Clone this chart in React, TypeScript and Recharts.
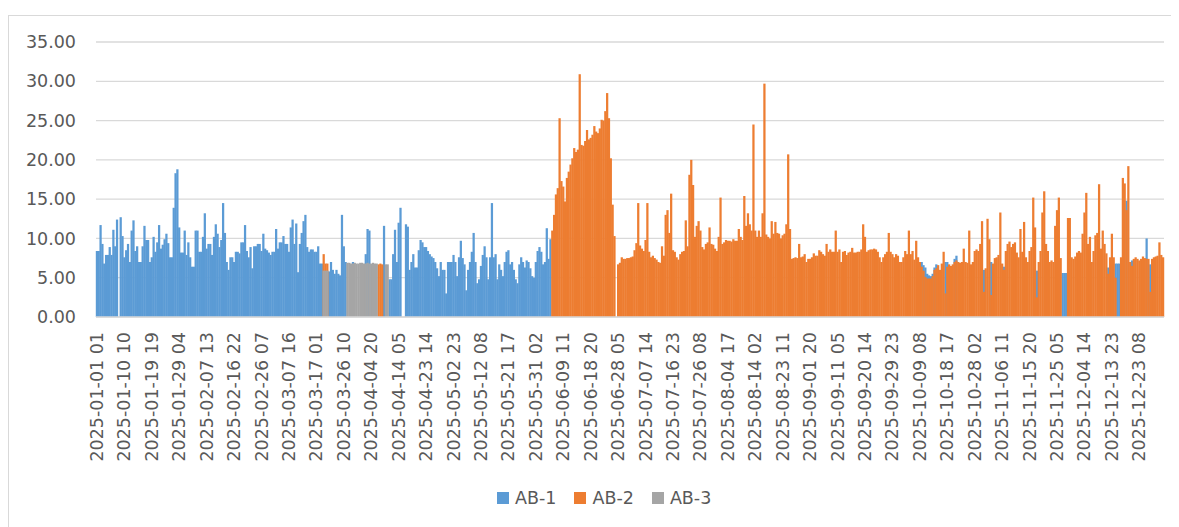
import { BarChart, Bar, XAxis, YAxis, CartesianGrid, Legend } from "recharts";

// 15-hour buckets from 2025-01-01 01 to the end of the year (584 slots).
// An axis label is printed every 15th bucket (225 h).
const tickLabels = [
  "2025-01-01 01", "2025-01-10 10", "2025-01-19 19", "2025-01-29 04", "2025-02-07 13",
  "2025-02-16 22", "2025-02-26 07", "2025-03-07 16", "2025-03-17 01", "2025-03-26 10",
  "2025-04-04 20", "2025-04-14 05", "2025-04-23 14", "2025-05-02 23", "2025-05-12 08",
  "2025-05-21 17", "2025-05-31 02", "2025-06-09 11", "2025-06-18 20", "2025-06-28 05",
  "2025-07-07 14", "2025-07-16 23", "2025-07-26 08", "2025-08-04 17", "2025-08-14 02",
  "2025-08-23 11", "2025-09-01 20", "2025-09-11 05", "2025-09-20 14", "2025-09-29 23",
  "2025-10-09 08", "2025-10-18 17", "2025-10-28 02", "2025-11-06 11", "2025-11-15 20",
  "2025-11-25 05", "2025-12-04 14", "2025-12-13 23", "2025-12-23 08",
];
const SLOT_COUNT = 584;
const yTicks = [0, 5, 10, 15, 20, 25, 30, 35];

// AB-1, buckets 0..248
const ab1Winter = [
  8.4, 8.4, 11.7, 9.3, 6.8, 7.9, 7.9, 8.9, 7.9, 11.1, 9, 12.4,
  0,
  12.7, 10.3, 7.6, 8.5, 9.3, 7, 11, 12.3, 8.4, 9, 7, 7,
  9, 11.6, 9.8, 9.8, 7, 7.6, 10.2, 8.3, 9.5, 11.7, 8.7, 9.2,
  9.9, 10.6, 9.4, 7.6, 7.6, 13.9, 18.3, 18.8, 11.4, 8.2, 8.2, 11,
  7.9, 9.5, 7.6, 6.4, 6.4, 11, 11, 8.3, 8.3, 10.2, 13.2, 8.7,
  9.3, 9.3, 7.9, 10.2, 11.8, 10.6, 8.9, 9.8, 14.5, 10.7, 7, 6,
  7.6, 7.6, 7, 8.3, 8.3, 8.1, 9.5, 9.5, 11.7, 8.4, 7.6, 8.9,
  6.2, 9, 9, 9.3, 9.3, 8.4, 10.6, 8.7, 8.5, 8.2,
  7.9, 8.3, 8.3, 11.2, 8.7, 9.5, 9.5, 10.3, 9.3, 9.3, 8.3, 11.4,
  12.4, 9.3, 11.9, 5.7, 9.3, 10.7, 12.2, 13, 8.9, 8.3, 8.6, 8.6,
  8.3, 8.3, 9, 6.8, 6.8,
  0, 0, 0,
  5.8, 7, 6, 5.5, 6, 5.5, 5.3, 13, 9, 7,
  0, 0, 0, 7, 0, 0, 0, 0, 0, 0, 8, 11.2, 11, 0, 0, 0, 0,
  0, 0, 0,
  11.6,
  0, 0,
  4.8, 4.8, 8, 11.1, 7, 12, 13.9, 0, 0, 11.8, 11.5,
  6, 7, 8, 6.3, 6.3, 8.5, 9.8, 9.5, 8.9, 8.9, 8.4, 8,
  7.7, 7.5, 7, 6.2, 5.2, 7, 6, 6, 3, 7, 7,
  7, 7.9, 7, 5.2, 7.6, 9.7, 7.5, 6.7, 3.4, 6, 7, 8.3,
  10.7, 7, 4.3, 4.8, 6.5, 7.9, 9, 7.6, 4.8, 7.6, 14.5, 7.6,
  8, 4.8, 6.7, 6, 5.2, 7, 8.3, 8.5, 6.7, 7, 6, 4.8,
  4.3, 6.7, 7.6, 7, 6.3, 7.2, 7, 6.2, 5.2, 5, 7, 8.4,
  8.9, 8.3, 6.7, 7, 11.3, 7.4, 9.9,
];

// AB-1, buckets 451..583 (only where it shows above AB-2)
const ab1Autumn = [
  7, 6.6, 6.3, 5.5, 5.3, 5.2, 5.5, 6.3, 6.7,
  0, 0, 0, 0, 7, 7, 0, 0, 0, 7.4, 7.8,
  0, 0, 0, 0, 0, 0, 0, 0, 0, 0, 0, 0, 0, 0,
  6, 0, 0, 0, 7, 0, 0, 0, 0, 0, 0, 6.4,
  0, 0, 0, 0, 0, 0, 0, 0, 0, 0, 0, 0, 0, 0, 0, 0, 0,
  5.9,
  0, 0, 0, 0, 0, 0, 0, 0, 0, 0, 0, 0, 0,
  5.6, 5.6, 5.6,
  0, 0, 0, 0, 0, 0, 0, 0, 0, 0, 0, 0, 0, 0, 0, 0, 0, 0, 0, 0, 0, 0,
  6.3, 0, 0, 0, 6.8, 6.8, 6.8, 0, 0, 0, 14.8, 0, 0, 7.2,
  0, 0, 0, 0, 0, 0, 0, 10, 0, 6.7, 0, 0, 0, 0, 0, 0, 0,
];

// AB-2, buckets 124..156
const ab2Spring = [
  8, 6.8, 6.8,
  0, 0, 0, 0, 0, 0, 0, 0, 0, 0, 0, 0, 0, 0, 0, 0, 0, 0, 0, 0, 0, 0, 0, 0, 0, 0, 0,
  6.7, 6.8, 6.7,
];

// AB-2, buckets 249..583
const ab2Summer = [
  11, 13, 15.6, 16.4, 25.3, 17.3, 16.6, 14.7, 17.7, 18.5, 19.4, 20.2,
  21.5, 21, 21.3, 30.9, 21.9, 21.8, 22.4, 23.8, 22.6, 22.8, 23.2, 24.3,
  23.6, 23.4, 24, 25.1, 25, 26.2, 28.5, 25.3, 20.2, 14.3, 10.3, 0,
  6.7, 6.9, 7.6, 7.4, 7.4, 7.5, 7.5, 7.6, 7.7, 8.5, 9.4, 14.5,
  9.1, 8.7, 8.4, 9.8, 14.5, 8.3, 7.6, 7.8, 7.5, 7.3, 7, 6.9,
  9, 7.8, 13, 13.6, 10.7, 15.7, 8.5, 8.3, 7.6, 7.3, 8, 8.3,
  8.4, 12.3, 9, 18.1, 20, 16.8, 10.2, 11.6, 12.2, 11, 8.9, 8.6,
  9.3, 9.5, 11.4, 9.3, 9.2, 8.7, 8.4, 10.2, 15.2, 9.3, 9.5, 9.8,
  9.7, 9.7, 9.6, 9.9, 9.7, 9.7, 11.2, 10.2, 9.8, 15.4, 11.6, 13.2,
  11.8, 11, 24.5, 11, 10.2, 11, 10.2, 13.2, 29.7, 10.5, 10.2, 10,
  12.2, 10.6, 12.1, 10.7, 10.6, 10, 10.4, 10.6, 11.8, 20.7, 11.2, 7.4,
  7.5, 7.6, 7.5, 9.3, 7.6, 7.7, 8, 7, 7.4, 7.4, 7.6, 8.1,
  7.8, 7.8, 8.5, 8.3, 8, 7.8, 9.3, 8.3, 8.6, 8.3, 8.3, 11,
  8.3, 8.6, 7, 8.3, 8.4, 7.9, 8.2, 8.3, 8.8, 8.2, 8.2, 8.3,
  8.3, 8.6, 11.8, 10.2, 8.3, 8.5, 8.6, 8.6, 8.7, 8.6, 8.3, 7.6,
  7, 7.6, 8, 8.3, 10.7, 8.3, 8, 7.6, 8, 7.8, 7, 7,
  7.6, 8.4, 8, 11, 8, 8.4, 7.3, 9.7, 7.6, 7, 6.4, 5.9,
  5.1, 4.9, 4.9, 4.9, 5.2, 6, 6.2, 6.6, 6, 6.8, 8.3, 3,
  6.4, 6.7, 6.5, 6.7, 7, 7.2, 7, 6.9, 7, 8.7, 7, 6.9,
  11, 6.7, 7, 8.4, 8.6, 8.4, 9.3, 12.2, 3.2, 6.2, 12.5, 9.9,
  2.8, 6.8, 7.5, 7.6, 7.9, 13.3, 6.8, 6, 8.4, 9.3, 9.6, 8.9,
  9.3, 9.5, 8.2, 7.6, 11.2, 8.3, 12.1, 7.6, 7, 8.4, 8.9, 15.2,
  11.4, 2.5, 7, 8.4, 13.3, 16, 9.3, 8.4, 7, 7.2, 7, 11.6,
  13.6, 15.2, 7.5, 0, 0, 0, 12.6, 12.6, 7.6, 7.4, 7.7, 8.2,
  8.4, 8.2, 10.6, 13.3, 15.8, 9.3, 10.2, 7, 8.4, 10.4, 10.7, 16.9,
  8.7, 11, 9.3, 8.1, 5.5, 7.6, 10.6, 7.6, 5, 0, 0, 7.6,
  17.7, 17, 13.6, 19.2, 7, 6.5, 7.4, 7.6, 7.4, 7.2, 7.4, 7.7,
  7.5, 7.4, 7.4, 3.2, 7.4, 7.6, 7.7, 7.8, 9.5, 7.9, 7.6,
];

// AB-3, buckets 124..159
const ab3Spring = [
  5.9, 5.9, 5.9,
  0, 0, 0, 0, 0, 0, 0, 0, 0, 0,
  6.9, 6.9, 6.8, 6.8, 6.9, 6.8, 6.8, 6.9, 6.9, 6.8, 6.8, 6.9, 6.8, 6.8, 6.9, 6.8, 6.8,
  0, 0, 0, 0,
  6.7, 6.7,
];

const at = (arr: number[], start: number, i: number) =>
  i >= start && i < start + arr.length ? arr[i - start] : undefined;

const data = Array.from({ length: SLOT_COUNT }, (_, i) => ({
  slot: i,
  ab1: at(ab1Winter, 0, i) ?? at(ab1Autumn, 451, i) ?? null,
  ab2: at(ab2Spring, 124, i) ?? at(ab2Summer, 249, i) ?? null,
  ab3: at(ab3Spring, 124, i) ?? null,
}));

const series = [
  { key: "ab1", name: "AB-1", color: "#5B9BD5", axis: "a" },
  { key: "ab2", name: "AB-2", color: "#ED7D31", axis: "b" },
  { key: "ab3", name: "AB-3", color: "#A5A5A5", axis: "c" },
];

const TEXT = "#595959";
const GRID = "#d9d9d9";

function SlotTick({ x, y, payload }: any) {
  const label = tickLabels[payload.value / 15];
  if (!label) return null;
  return (
    <text
      x={x}
      y={y}
      transform={`rotate(-90, ${x}, ${y})`}
      textAnchor="end"
      dominantBaseline="central"
      fill={TEXT}
      fontSize={17.5}
    >
      {label}
    </text>
  );
}

// columns are ~1.8px wide; pad each one a little so neighbours touch like Excel's
function Column({ x, y, width, height, fill }: any) {
  if (!height || height <= 0) return null;
  return <rect x={x - 0.2} y={y} width={width + 0.6} height={height} fill={fill} />;
}

function LegendRow() {
  return (
    <div style={{ display: "flex", paddingLeft: 488, height: 30, alignItems: "center" }}>
      {series.map((s) => (
        <div key={s.key} style={{ display: "flex", alignItems: "center", marginRight: 18 }}>
          <span style={{ width: 12, height: 12, background: s.color, marginRight: 6 }} />
          <span style={{ color: TEXT, fontSize: 17.5 }}>{s.name}</span>
        </div>
      ))}
    </div>
  );
}

export default function App() {
  return (
    <div
      style={{
        marginTop: 7,
        width: 1166,
        height: 518,
        border: `1px solid ${GRID}`,
        fontFamily: "'DejaVu Sans', sans-serif",
        background: "#fff",
      }}
    >
      <BarChart
        width={1166}
        height={510}
        data={data}
        margin={{ top: 26, right: 11, bottom: 13, left: 0 }}
        barCategoryGap={0}
        barGap={0}
      >
        <CartesianGrid xAxisId="a" vertical={false} stroke={GRID} strokeWidth={1.3} />
        <XAxis
          xAxisId="a"
          dataKey="slot"
          interval={14}
          tick={<SlotTick />}
          tickLine={false}
          tickSize={6}
          tickMargin={9}
          axisLine={{ stroke: GRID, strokeWidth: 1.3 }}
          height={166}
        />
        <XAxis xAxisId="b" dataKey="slot" hide />
        <XAxis xAxisId="c" dataKey="slot" hide />
        <YAxis
          domain={[0, 35]}
          ticks={yTicks}
          width={87}
          axisLine={false}
          tickLine={false}
          tickSize={6}
          tickMargin={14}
          tick={{ fill: TEXT, fontSize: 17.5 }}
          tickFormatter={(v) => Number(v).toFixed(2)}
        />
        <Legend verticalAlign="bottom" height={30} content={() => <LegendRow />} />
        {series.map((s) => (
          <Bar
            key={s.key}
            xAxisId={s.axis}
            dataKey={s.key}
            name={s.name}
            fill={s.color}
            barSize={1.83}
            shape={<Column />}
            isAnimationActive={false}
          />
        ))}
      </BarChart>
    </div>
  );
}
